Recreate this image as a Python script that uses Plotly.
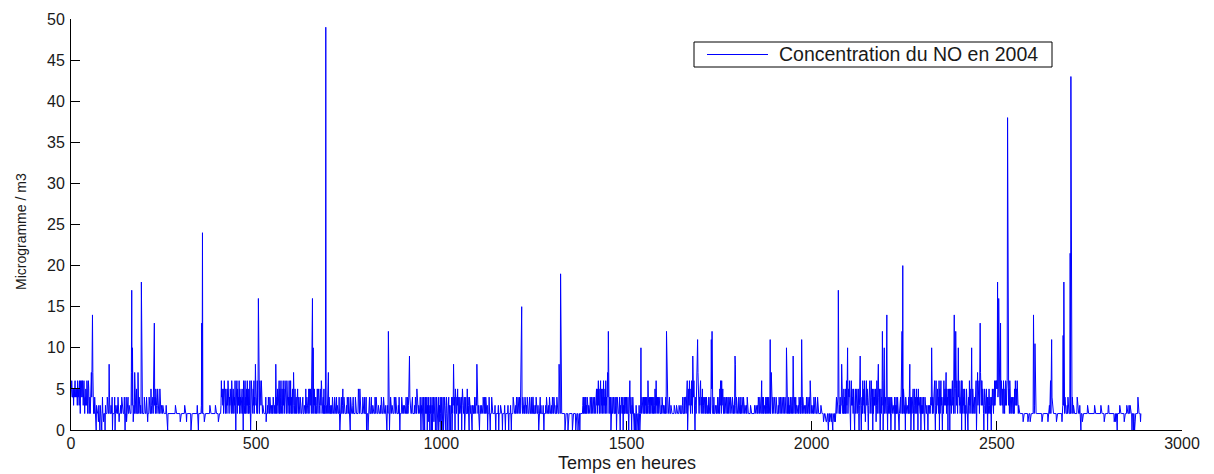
import plotly.graph_objects as go

# Hourly NO concentration in 2004 (microgramme / m3), one digit per hour.
# Each string covers 500 hours; readings of 10 and above are listed separately.
no_h0000 = """
4565445354 5645545365 4536526456 4653564243 5436524652 3425374747 2232422103 2222132203 2220242212 2203222242
3228422232 2402222240 2322232422 1222322432 2222420224 1222422322 2227332412 3274222522 2722422232 2342222242
3222423122 2423225324 3422513425 4323524222 5222322232 2222222322 1022222222 2222222222 2232222222 2222212222
2222222322 2212222222 2222022222 2222222222 2320022222 2232232222 1222222222 2222232222 2222222222 3222222212
2222236454 3524643252 4253645243 5352634254 2436203462 5343625342 4252406532 6243526342 5236402643 4253624385
"""
no_h0500 = """
4326243542 6453624232 3222224122 2324222432 2322324222 3228424352 4362524632 5426354265 4326352436 2436242352
3722352342 4252242324 2422324222 3222523422 2352543542 4292432534 2432354253 4325436524 3425232352 4325372432
3222324222 2242222423 2222420222 4223522422 2222324222 4222042222 2342222242 3222225222 5242222242 2224222402
2202224222 3422232222 2422423222 3222223242 2222424222 3220232422 0224222322 2224222423 2222324202 2224222322
3222342224 2348942222 3242222232 4222542223 2324203240 3042304243 2403241320 4230240324 1324032402 3240231420
"""
no_h1000 = """
2403240324 3202430242 4032203240 2438324052 3243520432 4222403524 2340224222 5243204232 3220322232 4232438242
3220232223 2324222422 4242302224 2302224222 2222232022 2222302222 3222202222 2320222222 3202222320 2222432322
2324222422 2432498432 4222324222 3242222242 2224222442 3222324222 2320222423 2222232022 2232422222 3242222232
4222423222 3242222282 4242322222 2222022222 2202222222 2222022222 2220222220 2222022222 2234242342 4232424232
3242324232 4232423245 3524635243 6253425362 4352634257 4272432403 2423242224 2340242322 2420324222 4032422432
"""
no_h1500 = """
4222430246 3242032423 2022023202 2202320224 2342324224 2434243264 3242342434 2432423542 6342434232 4222324222
3222324248 4222324222 3222222223 2222232222 2232222322 2342224234 4243604353 6432536429 5463603424 3647362435
6324352432 4222424322 3242224234 5242324222 3222324222 4253652634 5324324342 4222432423 2432224222 3249832423
2224222423 3242424222 3222324222 2222232222 2222223222 3222324222 4232462432 4232324234 2432424232 4723242324
3222423222 3242224222 4222423242 3242623242 2324222423 9324232423 3222324222 4232324232 3222324222 4232426242
"""
no_h2000 = """
3222324222 4232224222 2222232222 2212122121 1212101212 2121212021 2122132423 2424232423 3824232524 3252636424
5463504635 3425120352 4352435203 5942034263 4526314263 5420354624 3642504253 4352136243 8425302524 3460538243
4252304324 3242024232 3232403242 3242420242 4253724252 4230424232 3242582403 4243520352 3425324053 4232403242
3242304232 2322032232 2343242424 3462036243 5342605246 3420342634 5347253405 4350535243 6342735254 5364258463
4253606425 3425303253 4203426354 2534253423 4253605473 5462537436 6354203542 4352404235 3242304352 4253634656
"""
no_h2500 = """
6574585743 5364535264 4253643564 5435263524 3242324253 6435362423 2222222222 2122222222 2222122222 1222222222
4232242222 2222222222 2212222222 2222222212 2232462824 3222222222 2122222222 2222221232 3222423222 3242222232
3232422322 2222222432 2222302022 2122222222 2222232222 2222222222 2222322222 2222222222 2322222222 1222222222
2332222222 2222222122 2122102222 2232222222 2222122222 2322222322 3222202220 2102022222 2423222212
"""

# Peak hours and their concentrations
peak_hours = [58, 164, 166, 190, 223, 225, 353, 355, 506, 650, 652, 654, 688,
              857, 1217, 1322, 1324, 1451, 1539, 1608, 1692, 1729, 1731, 1888,
              1932, 1973, 2072, 2097, 2191, 2196, 2203, 2244, 2246, 2324, 2385,
              2389, 2396, 2432, 2455, 2502, 2505, 2510, 2529, 2531, 2599, 2603,
              2648, 2679, 2681, 2698, 2700]
peak_values = [14, 17, 10, 18, 10.5, 13, 13, 24, 16, 10, 16, 10, 49,
               12, 15, 19, 13, 12, 10, 12, 11, 11, 12, 11,
               10, 11, 17, 10, 12, 10, 14, 12, 20, 10, 14,
               12, 10, 10, 13, 18, 16, 13, 38, 20.5, 14, 10.5,
               11, 11.5, 18, 21.5, 43]

x_ticks = [0, 500, 1000, 1500, 2000, 2500, 3000]
y_ticks = [0, 5, 10, 15, 20, 25, 30, 35, 40, 45, 50]

series_name = "Concentration du NO en 2004"
x_title = "Temps en heures"
y_title = "Microgramme / m3"

digits = "".join(ch for block in (no_h0000, no_h0500, no_h1000, no_h1500, no_h2000, no_h2500)
                 for ch in block if ch.isdigit())
conc = [float(d) for d in digits]
for h, v in zip(peak_hours, peak_values):
    conc[h] = v
hours = list(range(len(conc)))

FONT = "Liberation Sans, Arial, sans-serif"
TEXT = "#1a1a1a"
BLUE = "#0000ff"

fig = go.Figure()
fig.add_trace(go.Scatter(x=hours, y=conc, mode="lines", name=series_name,
                         line=dict(color=BLUE, width=1.0), showlegend=False,
                         hoverinfo="x+y"))

# plot box in pixels: x 71..1182, y 19..430
W, H = 1214, 474
L, R, T, B = 71, 32, 19, 44
pw, ph = W - L - R, H - T - B


def px(x):
    return (x - L) / pw


def py(y):
    return (H - B - y) / ph


axis_common = dict(showline=True, linecolor="black", linewidth=1, mirror=False,
                   ticks="inside", ticklen=9, tickwidth=1, tickcolor="black",
                   showgrid=False, zeroline=False,
                   tickfont=dict(family=FONT, size=16, color=TEXT))

fig.update_layout(
    width=W, height=H, autosize=False,
    margin=dict(l=L, r=R, t=T, b=B, pad=0),
    paper_bgcolor="white", plot_bgcolor="white",
    showlegend=False,
    xaxis=dict(range=[0, 3000], tickvals=x_ticks, ticklabelstandoff=-1, **axis_common),
    yaxis=dict(range=[0, 50], tickvals=y_ticks, ticklabelstandoff=2, **axis_common),
    annotations=[
        dict(text=x_title, xref="paper", yref="paper", x=0.5, y=0, yshift=-33,
             xanchor="center", yanchor="middle", showarrow=False,
             font=dict(family=FONT, size=18, color=TEXT)),
        dict(text=y_title, xref="paper", yref="paper", x=0, y=py(232), xshift=-50,
             xanchor="center", yanchor="middle", textangle=-90, showarrow=False,
             font=dict(family=FONT, size=14, color=TEXT)),
        dict(text=series_name, xref="paper", yref="paper", x=px(777), y=py(54.5),
             xanchor="left", yanchor="middle", showarrow=False,
             font=dict(family=FONT, size=19.5, color=TEXT)),
    ],
    shapes=[
        dict(type="rect", xref="paper", yref="paper", x0=px(694), x1=px(1052),
             y0=py(67), y1=py(42), line=dict(color="black", width=1),
             fillcolor="white", layer="above"),
        dict(type="line", xref="paper", yref="paper", x0=px(707), x1=px(768),
             y0=py(54.5), y1=py(54.5), line=dict(color=BLUE, width=1.2),
             layer="above"),
    ],
)

fig.write_html("out.html")
